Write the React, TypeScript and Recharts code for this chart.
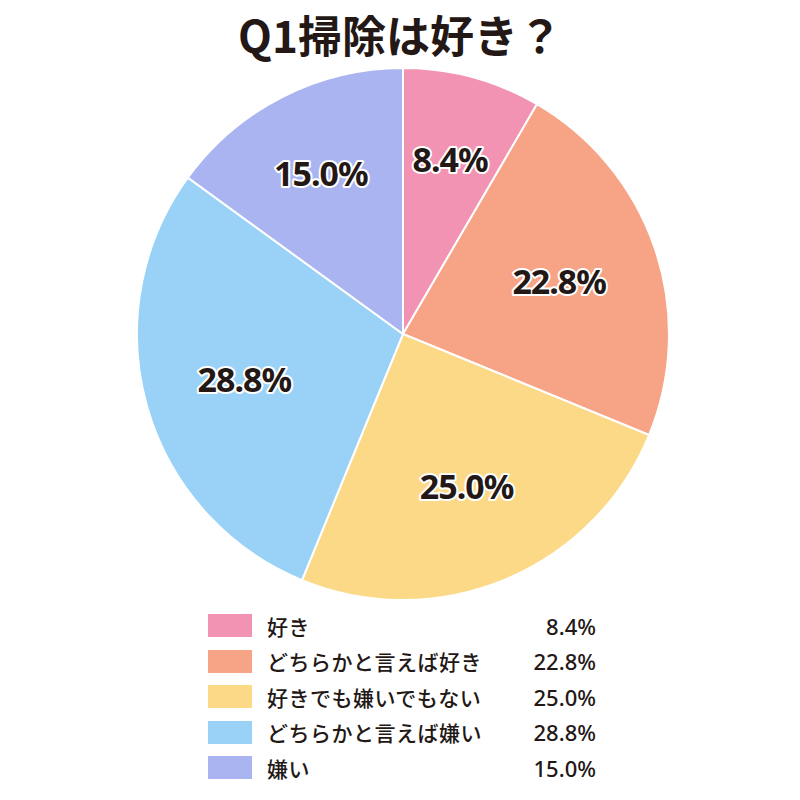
import { PieChart, Pie, Cell, Legend } from "recharts";

const categories = ["好き", "どちらかと言えば好き", "好きでも嫌いでもない", "どちらかと言えば嫌い", "嫌い"];
const shares = [8.4, 22.8, 25.0, 28.8, 15.0];
const colors = ["#F293B4", "#F7A386", "#FCD987", "#99D2F6", "#AAB4F0"];
const title = "Q1掃除は好き？";

const INK = "#231815";

const data = categories.map((name, i) => ({ name, value: shares[i] }));

const RAD = Math.PI / 180;

function SliceLabel(props: any) {
  const { cx, cy, midAngle, outerRadius, value } = props;
  // small slices sit a bit further out, like the original
  const r = outerRadius * (value < 20 ? 0.68 : 0.62);
  const x = cx + r * Math.cos(-midAngle * RAD);
  const y = cy + r * Math.sin(-midAngle * RAD);
  return (
    <text
      x={x}
      y={y}
      textAnchor="middle"
      dominantBaseline="central"
      fill={INK}
      stroke="#fff"
      strokeWidth={4}
      paintOrder="stroke"
      strokeLinejoin="round"
      style={{ fontFamily: "'Noto Sans', sans-serif", fontWeight: 700, fontSize: 34, letterSpacing: -1 }}
    >
      {value.toFixed(1)}%
    </text>
  );
}

function LegendBox() {
  return (
    <div style={{ width: 388, fontFamily: "'Noto Sans CJK JP', sans-serif", color: INK }}>
      {data.map((d, i) => (
        <div key={d.name} style={{ display: "flex", alignItems: "center", height: 35.5 }}>
          <span style={{ width: 44, height: 23, background: colors[i], display: "inline-block" }} />
          <span style={{ marginLeft: 15, fontSize: 21, fontWeight: 500, flex: 1, letterSpacing: 0.5 }}>{d.name}</span>
          <span style={{ fontFamily: "'Noto Sans', sans-serif", fontSize: 22, fontWeight: 500 }}>
            {d.value.toFixed(1)}%
          </span>
        </div>
      ))}
    </div>
  );
}

export default function App() {
  return (
    <div style={{ position: "absolute", left: 0, top: 0, width: 800, height: 800, background: "#fff" }}>
      <div
        style={{
          position: "absolute",
          top: 6,
          left: 0,
          width: 800,
          textAlign: "center",
          fontFamily: "'Noto Sans CJK JP', sans-serif",
          fontWeight: 700,
          fontSize: 44,
          color: INK,
          lineHeight: "56px",
        }}
      >
        {title}
      </div>
      <PieChart width={800} height={800}>
        <Pie
          data={data}
          dataKey="value"
          nameKey="name"
          cx={398}
          cy={329}
          outerRadius={266}
          startAngle={90}
          endAngle={-270}
          stroke="#fff"
          strokeWidth={2}
          label={SliceLabel}
          labelLine={false}
          isAnimationActive={false}
        >
          {data.map((d, i) => (
            <Cell key={d.name} fill={colors[i]} />
          ))}
        </Pie>
        <Legend content={<LegendBox />} wrapperStyle={{ position: "absolute", left: 208, top: 608, width: 388 }} />
      </PieChart>
    </div>
  );
}
